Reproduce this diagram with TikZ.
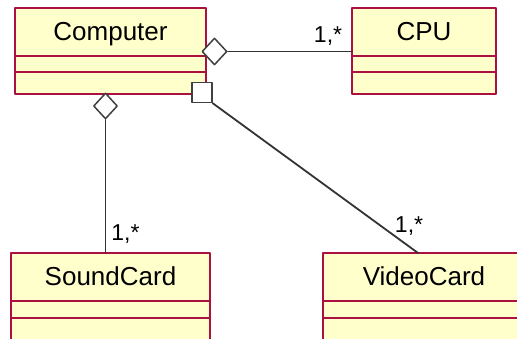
\documentclass[tikz,border=0pt]{standalone}
\usepackage{fontspec}
\setmainfont{Liberation Sans}
\usetikzlibrary{shapes.geometric,positioning}
\definecolor{umlfill}{RGB}{255,255,204}
\definecolor{umlline}{RGB}{170,16,64}
\tikzset{
  classname/.style={draw=umlline, fill=umlfill, line width=2pt, inner sep=0pt,
    outer sep=0pt, minimum height=48pt, text depth=2pt,
    font=\fontsize{26}{28}\selectfont},
  classpart/.style={draw=umlline, fill=umlfill, line width=2pt},
  assoc/.style={draw=black!80, line width=1.8pt},
  aggr/.style={shape=diamond, draw=black!75, fill=white, line width=1.5pt,
    inner sep=0pt, minimum width=25pt, minimum height=27pt},
  compsq/.style={shape=rectangle, draw=black!75, fill=white, line width=1.5pt,
    inner sep=0pt, minimum size=20pt},
  mult/.style={font=\fontsize{23}{25}\selectfont, inner sep=0pt}
}
\begin{document}
\begin{tikzpicture}[x=1pt, y=-1pt, line cap=round, line join=round]
  \useasboundingbox (0,0) rectangle (517,339);
  \clip (0,0) rectangle (517,339);
  % classes
  \node[classname, minimum width=191pt] (computer) at (110.5,32) {Computer};
  \draw[classpart] (computer.south west) rectangle ++(191,16) rectangle ++(-191,22);
  \node[classname, minimum width=144pt] (cpu) at (424,32) {CPU};
  \draw[classpart] (cpu.south west) rectangle ++(144,16) rectangle ++(-144,22);
  \node[classname, minimum width=199pt] (sound) at (110.5,277) {SoundCard};
  \draw[classpart] (sound.south west) rectangle ++(199,17) rectangle ++(-199,30);
  \node[classname, minimum width=202pt] (video) at (424,277) {VideoCard};
  \draw[classpart] (video.south west) rectangle ++(202,17) rectangle ++(-202,30);
  % associations
  \node[aggr] (cpuagg) at (214.5,51.5) {};
  \node[aggr, minimum width=24pt, minimum height=26pt] (sndagg) at (105.5,106) {};
  \node[compsq] (vidsq) at (202,92.5) {};
  \draw[assoc] (cpuagg.east) -- (cpuagg.east -| cpu.west)
    node[mult, anchor=base east, xshift=-9pt, yshift=9pt] {1,*};
  \draw[assoc] (sndagg.south) -- (sndagg.south |- sound.north)
    node[mult, anchor=base west, xshift=5pt, yshift=12pt] {1,*};
  \draw[assoc] (vidsq.south east) -- ([xshift=-6pt]video.north)
    node[mult, anchor=base east, xshift=6pt, yshift=20pt] {1,*};
\end{tikzpicture}
\end{document}
